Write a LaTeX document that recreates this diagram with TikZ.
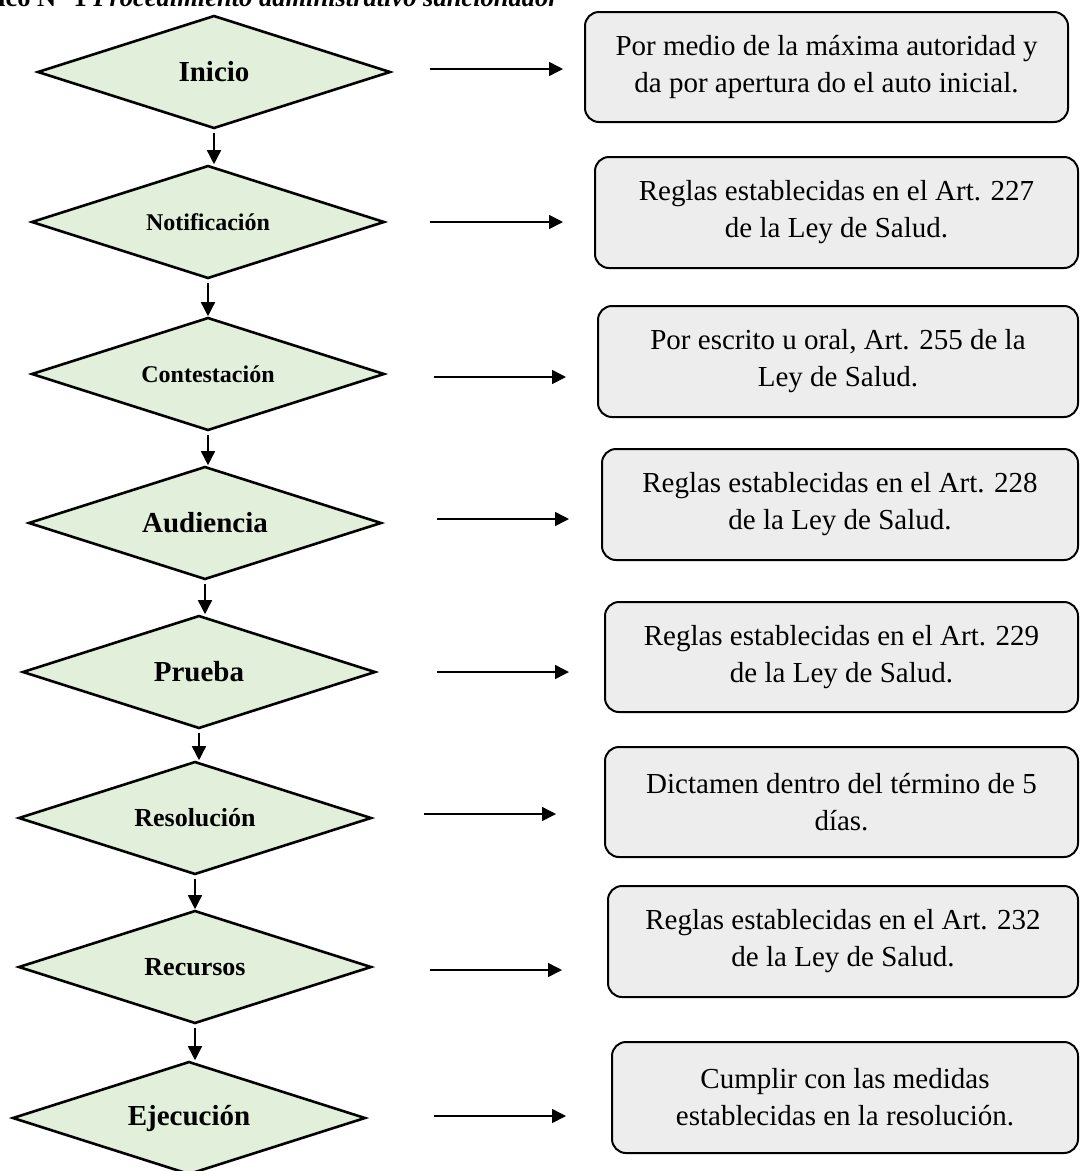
\documentclass[tikz,border=0pt]{standalone}
\usepackage{fontspec}
\setmainfont{Liberation Serif}
\usetikzlibrary{shapes.geometric,arrows.meta}
\definecolor{dgreen}{HTML}{E2EFDA}
\definecolor{bgray}{HTML}{EDEDED}
\begin{document}
\begin{tikzpicture}[x=1pt,y=-1pt,
  stage/.style={diamond, draw=black, line width=2.6pt, fill=dgreen, shape aspect=3.12,
    inner sep=0pt, minimum width=353pt, minimum height=113pt},
  bigl/.style={font=\fontsize{29}{34}\selectfont\bfseries},
  midl/.style={font=\fontsize{26}{30}\selectfont\bfseries},
  smalll/.style={font=\fontsize{24}{28}\selectfont\bfseries},
  note/.style={draw=black, line width=2pt, fill=bgray, rounded corners=14pt,
    align=center, inner sep=0pt, font=\fontsize{29}{37}\selectfont},
  flow/.style={-{Triangle[length=14pt,width=14pt]}, line width=1.5pt}
]
\useasboundingbox (0,0) rectangle (1080,1171);

% title (cut off at the top)
\node[anchor=base west, inner sep=0pt, font=\fontsize{26.5}{30}\selectfont\bfseries]
  (title) at (-2,6) {ico N° 1 \textit{Procedimiento administrativo sancionador}};

% stages
\node[stage, bigl]   (d1) at (214,72)   {Inicio};
\node[stage, smalll] (d2) at (208,222)  {Notificación};
\node[stage, smalll] (d3) at (208,374)  {Contestación};
\node[stage, bigl]   (d4) at (205,523)  {Audiencia};
\node[stage, bigl]   (d5) at (199,672)  {Prueba};
\node[stage, midl]   (d6) at (195,818)  {Resolución};
\node[stage, midl]   (d7) at (195,967)  {Recursos};
\node[stage, bigl]   (d8) at (189,1118) {Ejecución};

% notes
\node[note, minimum width=483pt, minimum height=110pt] (b1) at (826.5,67)
  {Por medio de la máxima autoridad y\\da por apertura do el auto inicial.};
\node[note, minimum width=483pt, minimum height=111pt] (b2) at (836.5,212.5)
  {Reglas establecidas en el Art. 227\\de la Ley de Salud.};
\node[note, minimum width=480pt, minimum height=111pt] (b3) at (838,361.5)
  {Por escrito u oral, Art. 255 de la\\Ley de Salud.};
\node[note, minimum width=476pt, minimum height=111pt] (b4) at (840,504.5)
  {Reglas establecidas en el Art. 228\\de la Ley de Salud.};
\node[note, minimum width=473pt, minimum height=110pt] (b5) at (841.5,657)
  {Reglas establecidas en el Art. 229\\de la Ley de Salud.};
\node[note, minimum width=473pt, minimum height=110pt] (b6) at (841.5,802)
  {Dictamen dentro del término de 5\\días.};
\node[note, minimum width=470pt, minimum height=111pt] (b7) at (843,941.5)
  {Reglas establecidas en el Art. 232\\de la Ley de Salud.};
\node[note, minimum width=466pt, minimum height=111pt] (b8) at (845,1097.5)
  {Cumplir con las medidas\\establecidas en la resolución.};

% vertical connectors
\foreach \a/\b in {d1/d2,d2/d3,d3/d4,d4/d5,d5/d6,d6/d7,d7/d8}
  \draw[flow] ([yshift=-3pt]\a.south) -- (\a.south |- \b.north);

% horizontal connectors (free-standing arrows)
\coordinate (s1) at (430,69);   \coordinate (e1) at (563,69);
\coordinate (s2) at (430,222);  \coordinate (e2) at (563,222);
\coordinate (s3) at (434,377);  \coordinate (e3) at (566,377);
\coordinate (s4) at (437,519);  \coordinate (e4) at (569,519);
\coordinate (s5) at (437,672);  \coordinate (e5) at (569,672);
\coordinate (s6) at (424,814);  \coordinate (e6) at (556,814);
\coordinate (s7) at (430,970);  \coordinate (e7) at (562,970);
\coordinate (s8) at (434,1116); \coordinate (e8) at (566,1116);
\foreach \i in {1,...,8}
  \draw[flow] (s\i) -- (e\i);
\end{tikzpicture}
\end{document}
